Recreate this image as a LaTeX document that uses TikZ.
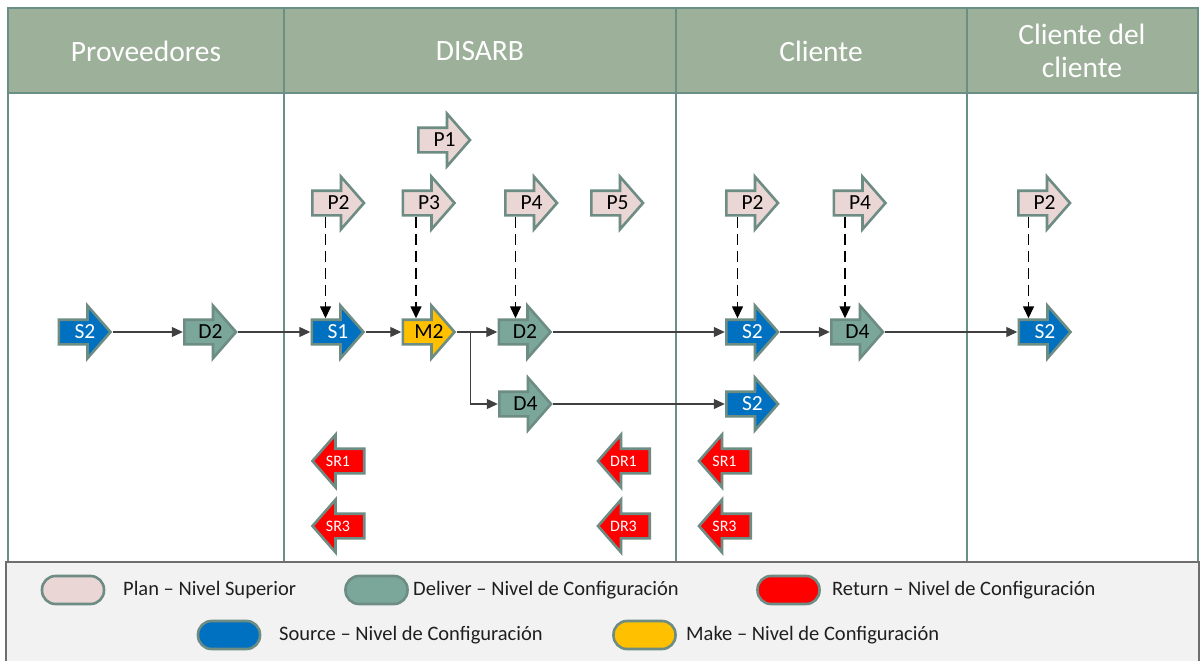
\documentclass[tikz,border=0pt]{standalone}
\usepackage{fontspec}
\setmainfont{Carlito}
\usetikzlibrary{arrows.meta}

\definecolor{headfill}{HTML}{9DB09A}
\definecolor{gridline}{HTML}{6A8F85}
\definecolor{arrline}{HTML}{6D8C84}
\definecolor{planfill}{HTML}{EAD6D4}
\definecolor{delivfill}{HTML}{7BA79B}
\definecolor{srcfill}{HTML}{0070C0}
\definecolor{makefill}{HTML}{FFC000}
\definecolor{retfill}{HTML}{FF0000}
\definecolor{legfill}{HTML}{F2F2F2}
\definecolor{legline}{HTML}{6E6E6E}
\definecolor{flowline}{HTML}{404040}

\tikzset{
  x=1pt, y=-1pt,
  grid/.style={draw=gridline, line width=2.8pt},
  headtext/.style={text=white, font=\fontsize{29.5}{33}\selectfont, align=center},
  procshape/.style={draw=arrline, line width=2.6pt, line join=miter},
  procbody/.style={minimum width=55pt, minimum height=27pt, inner sep=0pt,
                   font=\fontsize{21.5}{24}\selectfont},
  retbody/.style={minimum width=55pt, minimum height=27pt, inner sep=0pt,
                  font=\fontsize{16}{18}\selectfont, text=white},
  flow/.style={draw=flowline, line width=1.2pt, -{Triangle[length=11pt,width=10pt]}},
  planlink/.style={draw=black, line width=1.4pt, dash pattern=on 11pt off 6pt,
                   -{Triangle[length=12pt,width=11pt]}},
  pill/.style={draw=arrline, line width=2.6pt, rounded corners=13.5pt,
               minimum width=62pt, minimum height=28pt, inner sep=0pt},
  legtext/.style={anchor=west, inner sep=0pt, font=\fontsize{20.5}{24}\selectfont, text=black!88},
}

% process step pointing right: name, x, y, fill colour, label
\newcommand\stepright[5]{%
  \path[procshape, fill=#4]
    (#2-26.2,#3-12.3) -- (#2+2.5,#3-12.3) -- (#2+2.5,#3-26.3) -- (#2+25.5,#3)
    -- (#2+2.5,#3+26.3) -- (#2+2.5,#3+12.3) -- (#2-26.2,#3+12.3) -- cycle;
  \node[procbody] (#1) at (#2,#3) {#5};%
}
% return step pointing left: name, x, y, label
\newcommand\stepleft[4]{%
  \path[procshape, fill=retfill]
    (#2+26.2,#3-12.3) -- (#2-2.5,#3-12.3) -- (#2-2.5,#3-26.3) -- (#2-25.5,#3)
    -- (#2-2.5,#3+26.3) -- (#2-2.5,#3+12.3) -- (#2+26.2,#3+12.3) -- cycle;
  \node[retbody] (#1) at (#2,#3) {#4};%
}

\begin{document}
\begin{tikzpicture}
\useasboundingbox (0,0) rectangle (1200,661);
\fill[white] (0,0) rectangle (1200,661);

% swimlane table
\fill[headfill] (8,8) rectangle (1198,93);
\draw[grid] (8,8) rectangle (1198,562);
\draw[grid] (8,93) -- (1198,93);
\draw[grid] (284,8) -- (284,562);
\draw[grid] (676,8) -- (676,562);
\draw[grid] (967,8) -- (967,562);

\node[headtext] (hprov) at (146,51) {Proveedores};
\node[headtext] (hdis) at (480,51) {DISARB};
\node[headtext] (hcli) at (821,51) {Cliente};
\node[headtext] (hcc) at (1082,51) {Cliente del\\cliente};

% plan steps
\stepright{p1}{444.5}{140}{planfill}{P1}
\stepright{p2a}{338.5}{203}{planfill}{P2}
\stepright{p3}{429}{203}{planfill}{P3}
\stepright{p4a}{531.5}{203}{planfill}{P4}
\stepright{p5}{617.5}{203}{planfill}{P5}
\stepright{p2b}{752.5}{203}{planfill}{P2}
\stepright{p4b}{860}{203}{planfill}{P4}
\stepright{p2c}{1044.5}{203}{planfill}{P2}

% main flow
\stepright{s2a}{85}{332}{srcfill}{\textcolor{white}{S2}}
\stepright{d2a}{210.5}{332}{delivfill}{D2}
\stepright{s1}{338}{332}{srcfill}{\textcolor{white}{S1}}
\stepright{m2}{429}{332}{makefill}{M2}
\stepright{d2b}{525}{332}{delivfill}{D2}
\stepright{s2b}{752.5}{332}{srcfill}{\textcolor{white}{S2}}
\stepright{d4b}{857.5}{332}{delivfill}{D4}
\stepright{s2c}{1045}{332}{srcfill}{\textcolor{white}{S2}}

% second delivery branch
\stepright{d4a}{525.5}{404}{delivfill}{D4}
\stepright{s2d}{752.5}{404}{srcfill}{\textcolor{white}{S2}}

% return steps
\stepleft{sr1a}{338}{461}{SR1}
\stepleft{sr3a}{338}{526}{SR3}
\stepleft{dr1}{623.5}{461}{DR1}
\stepleft{dr3}{623.5}{526}{DR3}
\stepleft{sr1b}{724.5}{461}{SR1}
\stepleft{sr3b}{724.5}{526}{SR3}

% material flow
\draw[flow] (s2a.east) -- (d2a.west);
\draw[flow] (d2a.east) -- (s1.west);
\draw[flow] (s1.east) -- (m2.west);
\draw[flow] (m2.east) -- (d2b.west);
\draw[flow] (d2b.east) -- (s2b.west);
\draw[flow] (s2b.east) -- (d4b.west);
\draw[flow] (d4b.east) -- (s2c.west);
\draw[flow] (m2.east) -- ++(14,0) |- (d4a.west);
\draw[flow] (d4a.east) -- (s2d.west);

% planning links
\draw[planlink] ([xshift=-13pt]p2a.south) -- ([xshift=-13pt]p2a.south |- s1.north);
\draw[planlink] ([xshift=-13pt]p3.south) -- ([xshift=-13pt]p3.south |- m2.north);
\draw[planlink] ([xshift=-16pt]p4a.south) -- ([xshift=-16pt]p4a.south |- d2b.north);
\draw[planlink] ([xshift=-15pt]p2b.south) -- ([xshift=-15pt]p2b.south |- s2b.north);
\draw[planlink] ([xshift=-15pt]p4b.south) -- ([xshift=-15pt]p4b.south |- d4b.north);
\draw[planlink] ([xshift=-16pt]p2c.south) -- ([xshift=-16pt]p2c.south |- s2c.north);

% legend
\draw[draw=legline, fill=legfill, line width=2.5pt] (6,562) rectangle (1199,668);
\node[pill, fill=planfill] (kplan) at (73,590) {};
\node[legtext] (lplan) at (123,590) {Plan – Nivel Superior};
\node[pill, fill=delivfill] (kdeliv) at (376.5,590) {};
\node[legtext] (ldeliv) at (413,590) {Deliver – Nivel de Configuración};
\node[pill, fill=retfill] (kret) at (788.5,590) {};
\node[legtext] (lret) at (832,590) {Return – Nivel de Configuración};
\node[pill, fill=srcfill] (ksrc) at (229,635) {};
\node[legtext] (lsrc) at (279,635) {Source – Nivel de Configuración};
\node[pill, fill=makefill] (kmake) at (644.5,635) {};
\node[legtext] (lmake) at (686,635) {Make – Nivel de Configuración};
\end{tikzpicture}
\end{document}
